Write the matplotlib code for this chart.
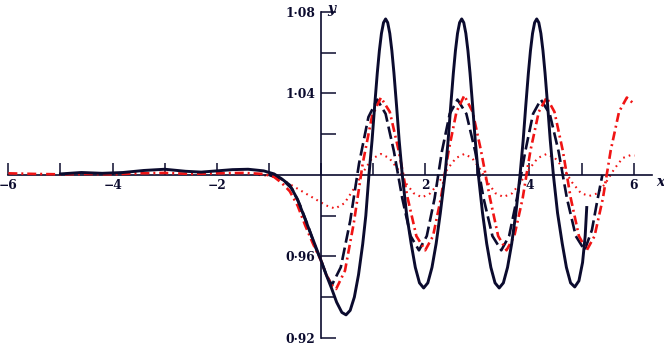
import matplotlib
matplotlib.use("Agg")
import matplotlib.pyplot as plt

# solid black curve
solid_x = [-5.0, -4.6, -4.2, -3.8, -3.4, -3.0, -2.6, -2.3, -2.0, -1.7, -1.4, -1.1, -0.9,
           -0.75, -0.6, -0.45, -0.3, -0.15, 0.0, 0.1, 0.2, 0.3, 0.4, 0.48, 0.56, 0.64,
           0.72, 0.8, 0.86, 0.92,
           0.98, 1.03, 1.08, 1.12, 1.16, 1.2, 1.24, 1.28, 1.32, 1.36, 1.4, 1.45, 1.5, 1.56,
           1.64, 1.73, 1.81, 1.89, 1.97, 2.05, 2.13, 2.21, 2.29, 2.38,
           2.44, 2.49, 2.54, 2.58, 2.62, 2.66, 2.7, 2.74, 2.78, 2.82, 2.86, 2.91, 2.96, 3.02,
           3.1, 3.18, 3.26, 3.34, 3.42, 3.5, 3.58, 3.66, 3.74, 3.82,
           3.88, 3.93, 3.98, 4.02, 4.06, 4.1, 4.14, 4.18, 4.22, 4.26, 4.3, 4.35, 4.4, 4.46,
           4.54, 4.63, 4.71, 4.79, 4.87, 4.95, 5.02, 5.07, 5.1]
solid_y = [1.0005, 1.0012, 1.0008, 1.0012, 1.0022, 1.0028, 1.0018, 1.0014, 1.002, 1.0026,
           1.0028, 1.002, 1.0005, 0.998, 0.995, 0.988, 0.978, 0.968, 0.958, 0.951, 0.9445,
           0.9375, 0.9325, 0.9313, 0.9335, 0.94, 0.951, 0.966, 0.98, 1.0,
           1.017, 1.034, 1.05, 1.061, 1.0695, 1.0748, 1.0766, 1.0748, 1.0695, 1.061, 1.05,
           1.034, 1.017, 1.0,
           0.9813, 0.9663, 0.9546, 0.947, 0.9445, 0.947, 0.9546, 0.9663, 0.9813, 1.0,
           1.017, 1.034, 1.05, 1.061, 1.0695, 1.0748, 1.0766, 1.0748, 1.0695, 1.061, 1.05,
           1.034, 1.017, 1.0,
           0.9813, 0.9663, 0.9546, 0.947, 0.9445, 0.947, 0.9546, 0.9663, 0.9813, 1.0,
           1.017, 1.034, 1.05, 1.061, 1.0695, 1.0748, 1.0766, 1.0748, 1.0695, 1.061, 1.05,
           1.034, 1.017, 1.0,
           0.9813, 0.9663, 0.9546, 0.947, 0.945, 0.948, 0.957, 0.97, 0.984]

# long-dashed black curve
dashed_x = [-1.0, -0.75, -0.55, -0.4, -0.25, -0.1, 0.0, 0.1, 0.21, 0.38, 0.56, 0.73, 0.91,
            1.08, 1.24, 1.4, 1.56, 1.72, 1.88, 2.03, 2.18, 2.32, 2.47, 2.62, 2.79, 2.96,
            3.12, 3.29, 3.46, 3.61, 3.76, 3.92, 4.07, 4.22, 4.39, 4.56, 4.72, 4.89, 5.06,
            5.2, 5.3, 5.4]
dashed_y = [1.0, 0.998, 0.993, 0.985, 0.975, 0.964, 0.958, 0.951, 0.946, 0.9547, 0.9774,
            1.0056, 1.0284, 1.037, 1.030, 1.0115, 0.9885, 0.970, 0.963, 0.970, 0.9885,
            1.0115, 1.030, 1.037, 1.030, 1.0115, 0.9885, 0.970, 0.963, 0.970, 0.9885,
            1.0115, 1.030, 1.037, 1.030, 1.0115, 0.9885, 0.970, 0.963, 0.973, 0.987, 1.0]

# red dash-dot curve
dashdot_x = [-6.0, -5.5, -5.0, -4.5, -4.0, -3.5, -3.0, -2.5, -2.0, -1.5, -1.1, -0.9, -0.75,
             -0.6, -0.45, -0.3, -0.15, 0.0, 0.1, 0.2, 0.29, 0.46, 0.63, 0.8, 0.98, 1.15,
             1.32, 1.49, 1.66, 1.83, 2.0, 2.15, 2.3, 2.45, 2.6, 2.75, 2.91, 3.07, 3.24,
             3.4, 3.56, 3.71, 3.87, 4.02, 4.18, 4.33, 4.48, 4.64, 4.79, 4.95, 5.1, 5.25,
             5.41, 5.56, 5.72, 5.87, 6.0]
dashdot_y = [1.0008, 1.0005, 1.0003, 1.0005, 1.0003, 1.0008, 1.001, 1.0005, 1.0008, 1.001,
             1.0005, 0.999, 0.996, 0.992, 0.985, 0.975, 0.966, 0.958, 0.951, 0.946, 0.944,
             0.953, 0.9765, 1.0055, 1.029, 1.038, 1.031, 1.012, 0.989, 0.970, 0.963, 0.970,
             0.9885, 1.012, 1.031, 1.039, 1.031, 1.012, 0.989, 0.970, 0.963, 0.970, 0.9885,
             1.012, 1.031, 1.038, 1.031, 1.012, 0.989, 0.970, 0.963, 0.970, 0.9885, 1.012,
             1.031, 1.038, 1.035]

# red dotted curve
dotted_x = [-1.2, -0.9, -0.7, -0.5, -0.3, -0.1, 0.1, 0.27, 0.45, 0.62, 0.8, 0.97, 1.15,
            1.31, 1.47, 1.62, 1.78, 1.94, 2.1, 2.26, 2.43, 2.59, 2.75, 2.9, 3.05, 3.2,
            3.35, 3.5, 3.67, 3.83, 4.0, 4.16, 4.33, 4.49, 4.66, 4.82, 4.99, 5.15, 5.31,
            5.47, 5.63, 5.79, 5.95, 6.02]
dotted_y = [1.0, 0.9995, 0.997, 0.994, 0.991, 0.988, 0.985, 0.9835, 0.9861, 0.9928, 1.001,
            1.0078, 1.0103, 1.0083, 1.003, 0.9963, 0.991, 0.989, 0.991, 0.9963, 1.003,
            1.0083, 1.0103, 1.0083, 1.003, 0.9963, 0.991, 0.9892, 0.991, 0.9963, 1.003,
            1.0083, 1.0103, 1.0083, 1.003, 0.9963, 0.991, 0.9897, 0.991, 0.9963, 1.003,
            1.0083, 1.0098, 1.0095]

xtick_vals = [-6, -5, -4, -3, -2, -1, 0, 1, 2, 3, 4, 5, 6]
xtick_labels = ['\u22126', '', '\u22124', '', '\u22122', '', '', '', '2', '', '4', '', '6']
ytick_vals = [0.92, 0.94, 0.96, 0.98, 1.02, 1.04, 1.06, 1.08]
ytick_labels = ['0\u00b792', '', '0\u00b796', '', '', '1\u00b704', '', '1\u00b708']

ink = '#0b0b2e'
red = '#f01414'

fig = plt.figure(figsize=(6.64, 3.45), dpi=100)
ax = fig.add_axes([0, 0, 1, 1])
ax.set_xlim(-6.161, 6.583)
ax.set_ylim(0.9165, 1.0859)

ax.plot(dotted_x, dotted_y, color=red, lw=1.5, dashes=(0.8, 2.0), zorder=2)
ax.plot(dashed_x, dashed_y, color=ink, lw=1.9, dashes=(4.8, 1.9), zorder=3)
ax.plot(dashdot_x, dashdot_y, color=red, lw=1.9, dashes=(3.4, 1.5, 0.75, 1.5), zorder=4)
ax.plot(solid_x, solid_y, color=ink, lw=2.1, zorder=5)

for s in ['top', 'right']:
    ax.spines[s].set_visible(False)
ax.spines['left'].set_position(('data', 0))
ax.spines['bottom'].set_position(('data', 1.0))
ax.spines['left'].set_bounds(0.92, 1.08)
ax.spines['bottom'].set_bounds(-6, 6.35)
for s in ['left', 'bottom']:
    ax.spines[s].set_color(ink)
    ax.spines[s].set_linewidth(1.2)

tick_font = dict(family='DejaVu Serif', weight='bold', size=8.8)
ax.set_xticks(xtick_vals)
ax.set_xticklabels(xtick_labels, **tick_font, color=ink)
ax.set_yticks(ytick_vals)
ax.set_yticklabels(ytick_labels, **tick_font, color=ink)
ax.tick_params(axis='x', direction='in', length=8.5, width=1.1, color=ink, pad=3)
ax.tick_params(axis='y', direction='in', length=10.5, width=1.1, color=ink, pad=4)

ax.text(6.51, 0.9965, 'x', family='DejaVu Serif', style='italic', weight='bold',
        size=10, color=ink, ha='center', va='center')
ax.text(0.2, 1.0815, 'y', family='DejaVu Serif', style='italic', weight='bold',
        size=10, color=ink, ha='center', va='center')

fig.savefig('out.png', dpi=100)
